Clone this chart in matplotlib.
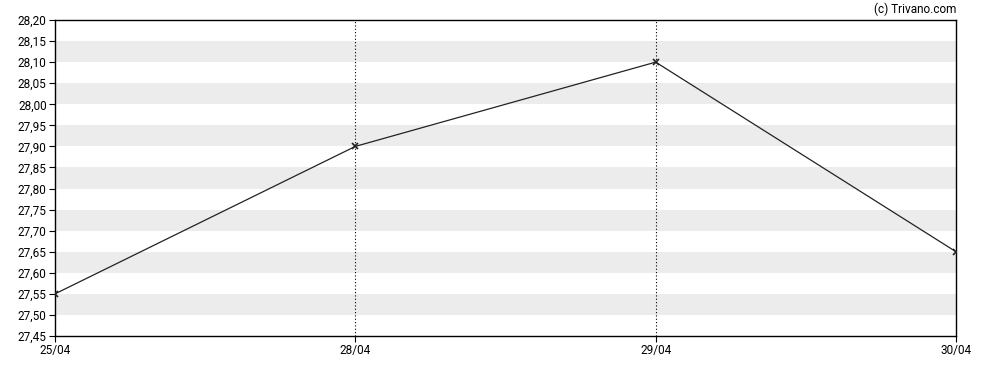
import matplotlib
matplotlib.use("Agg")
import matplotlib.pyplot as plt
import numpy as np

dates = ["25/04", "28/04", "29/04", "30/04"]
prices = [27.55, 27.90, 28.10, 27.65]
y_ticks = [27.45 + 0.05 * i for i in range(16)]

plt.rcParams['font.family'] = ['Roboto', 'DejaVu Sans']

fig = plt.figure(figsize=(9.88, 3.70), dpi=100)
ax = fig.add_axes([55 / 988, 1 - 336 / 370, (956 - 55) / 988, (336 - 20) / 370])

x = np.arange(len(dates))
ax.set_xlim(0, len(dates) - 1)
ax.set_ylim(27.45, 28.20)

# alternating gray bands
for lo in np.arange(27.50, 28.15, 0.10):
    ax.axhspan(lo, lo + 0.05, color='#ececec', lw=0, zorder=0)

# dotted verticals at inner dates
for xi in x[1:-1]:
    ax.axvline(xi, color='black', linestyle=(0, (1, 2)), linewidth=0.8, zorder=1)

ax.plot(x, prices, color='#222222', linewidth=0.9, marker='x', markersize=4,
        markeredgewidth=1.2, zorder=3)

ax.set_xticks(x)
ax.set_xticklabels(dates)
ax.set_yticks(y_ticks)
ax.set_yticklabels([f"{v:.2f}".replace('.', ',') for v in y_ticks])
ax.tick_params(axis='both', labelsize=8.5, length=4, width=0.8, color='black', pad=2)

for s in ax.spines.values():
    s.set_linewidth(1.0)
    s.set_color('black')

fig.text(956 / 988, 1 - 9 / 370, "(c) Trivano.com", ha='right', va='center', fontsize=8.5)

fig.savefig("out.png", dpi=100)
